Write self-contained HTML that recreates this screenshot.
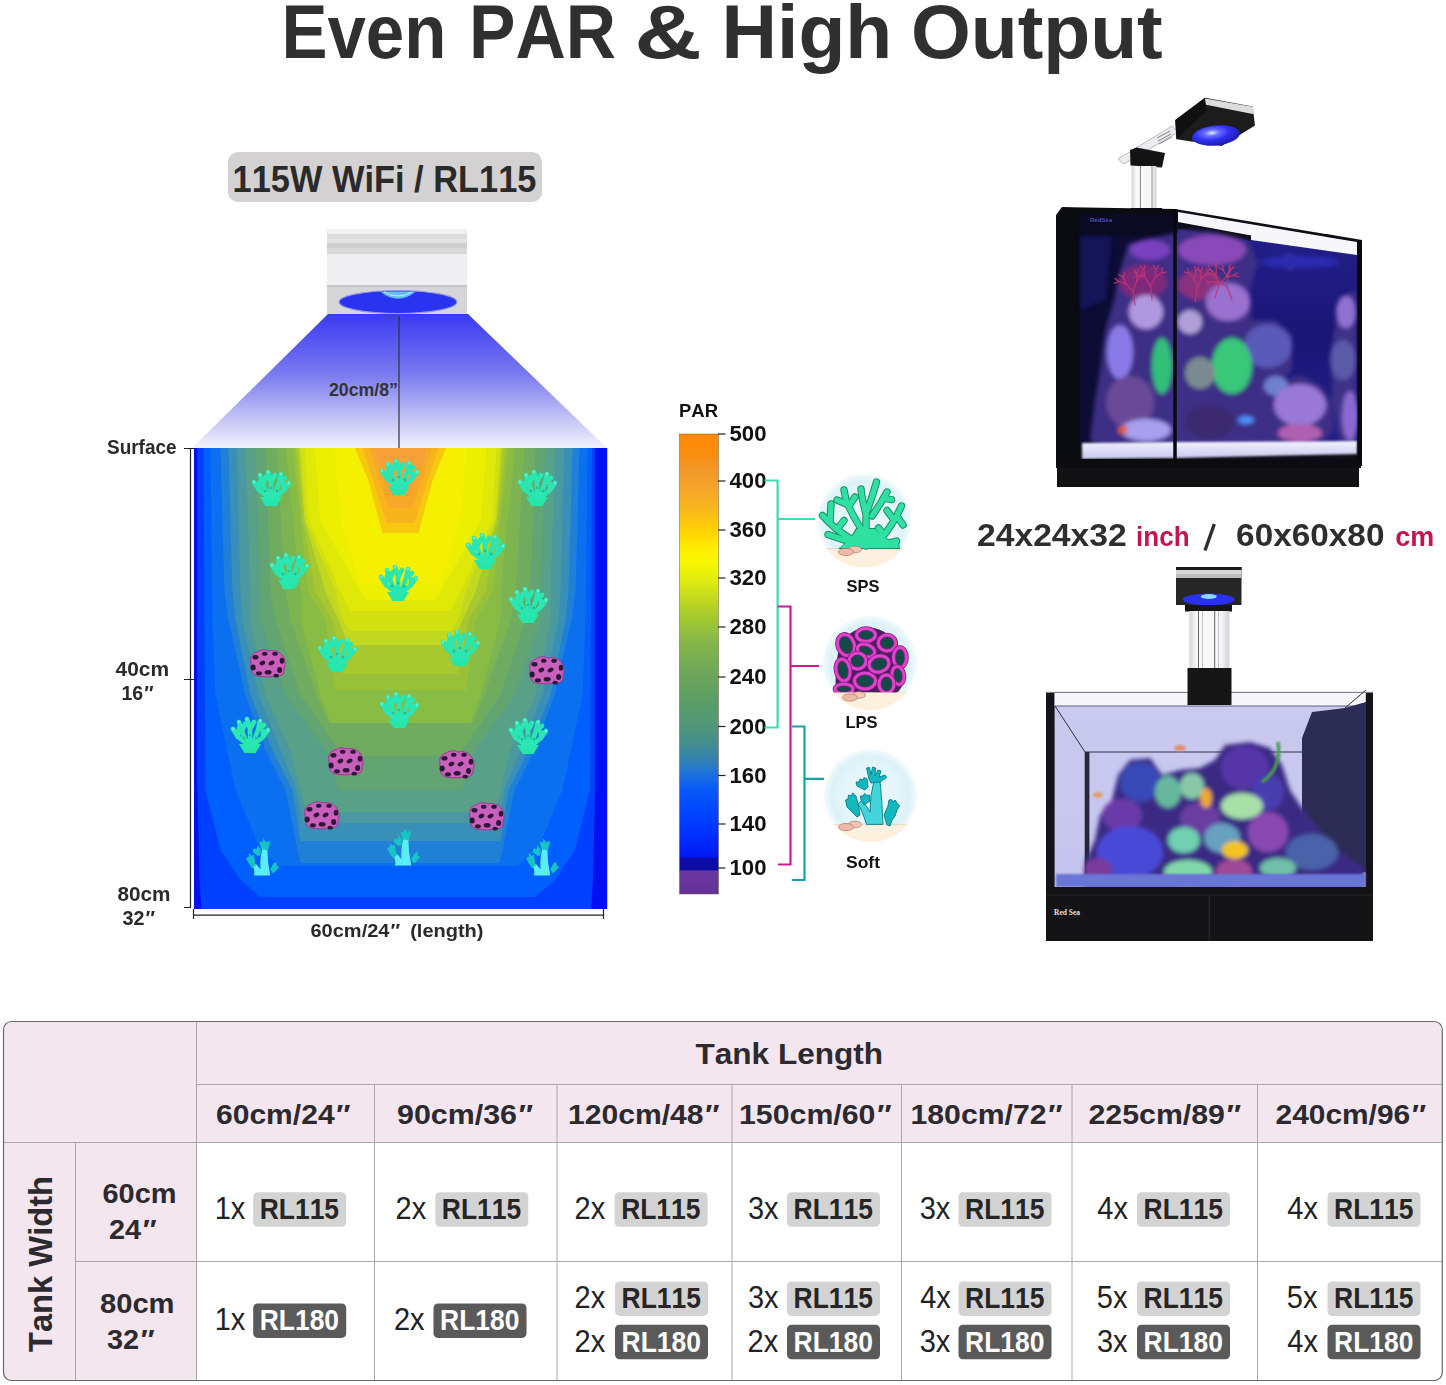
<!DOCTYPE html>
<html><head><meta charset="utf-8"><title>Even PAR &amp; High Output</title>
<style>
html,body{margin:0;padding:0;background:#fff;}
body{width:1446px;height:1385px;overflow:hidden;font-family:"Liberation Sans", sans-serif;}
svg{display:block;font-family:"Liberation Sans", sans-serif;font-kerning:none;}
</style></head><body>
<svg width="1446" height="1385" viewBox="0 0 1446 1385">
<text x="281.49" y="58" font-size="76.5" font-weight="bold" fill="#303030" text-anchor="start" textLength="164.79" lengthAdjust="spacingAndGlyphs" >Even</text>
<text x="468.94" y="58" font-size="76.5" font-weight="bold" fill="#303030" text-anchor="start" textLength="147.09" lengthAdjust="spacingAndGlyphs" >PAR</text>
<text x="634.41" y="58" font-size="76.5" font-weight="bold" fill="#303030" text-anchor="start" textLength="67.2" lengthAdjust="spacingAndGlyphs" >&amp;</text>
<text x="721.56" y="58" font-size="76.5" font-weight="bold" fill="#303030" text-anchor="start" textLength="170.7" lengthAdjust="spacingAndGlyphs" >High</text>
<text x="910.95" y="58" font-size="76.5" font-weight="bold" fill="#303030" text-anchor="start" textLength="251.79" lengthAdjust="spacingAndGlyphs" >Output</text>
<rect x="228" y="152" width="314" height="50" rx="10" fill="#d3d1d2"/>
<text x="232.5" y="191.5" font-size="36.5" font-weight="bold" fill="#2a2a2a" text-anchor="start" textLength="304" lengthAdjust="spacingAndGlyphs" >115W WiFi / RL115</text>
<g>
<rect x="327" y="229" width="140" height="86" rx="2" fill="#d8d8da"/>
<rect x="327" y="229" width="140" height="5" rx="2" fill="#f2f2f2"/>
<rect x="327" y="234" width="140" height="5" fill="#dcdcdc"/>
<rect x="327" y="239" width="140" height="4" fill="#e4e4e4"/>
<rect x="327" y="243" width="140" height="5" fill="#cfcfcf"/>
<rect x="327" y="248" width="140" height="6" fill="#d9d9d9"/>
<rect x="327" y="254" width="140" height="31" fill="#efeff1"/>
<rect x="327" y="285" width="140" height="2" fill="#c4c4c6"/>
<rect x="327" y="287" width="140" height="28" fill="#d6d6d8"/>
<ellipse cx="398" cy="302" rx="59" ry="11.5" fill="#2a34f0" stroke="#9a9ae0" stroke-width="1.2"/>
<path d="M380 291.5 Q398 306 416 291.5 Z" fill="#64bcf2"/>
<path d="M384 292 Q398 300 412 292" fill="none" stroke="#c8ecff" stroke-width="1"/>
</g>
<defs>
<linearGradient id="cone" x1="0" y1="0" x2="0" y2="1">
<stop offset="0" stop-color="#3a3af2"/>
<stop offset="0.45" stop-color="#7a7af0"/>
<stop offset="0.8" stop-color="#c8c8f6"/>
<stop offset="1" stop-color="#f2f2fc"/>
</linearGradient>
</defs>
<polygon points="328,314 468,314 607,448 192,448" fill="url(#cone)"/>
<line x1="399" y1="316" x2="399" y2="448" stroke="#333" stroke-width="1.2"/>

<text x="329" y="396" font-size="18" font-weight="bold" fill="#333" text-anchor="start" textLength="69" lengthAdjust="spacingAndGlyphs" >20cm/8&#8221;</text>
<defs><clipPath id="hm"><rect x="194" y="448" width="413.5" height="461"/></clipPath></defs>
<g clip-path="url(#hm)"><rect x="194" y="448" width="413.5" height="461" fill="#0010f0"/>
<polygon points="197.5,447.0 197.5,790.0 199.5,880.0 201.5,912.0 591.0,912.0 593.0,880.0 595.0,790.0 595.0,447.0" fill="#0040ff"/>
<polygon points="203.5,447.0 204.5,620.0 205.5,790.0 220.5,850.0 240.5,880.0 260.5,897.0 535.0,897.0 555.0,880.0 575.0,850.0 590.0,790.0 591.0,620.0 592.0,447.0" fill="#0060ff"/>
<polygon points="210.5,447.0 212.5,620.0 215.5,695.0 235.5,790.0 260.5,850.0 280.5,866.0 517.5,866.0 537.5,850.0 562.5,790.0 582.5,695.0 585.5,620.0 587.5,447.0" fill="#0a70f0"/>
<polygon points="220.5,447.0 224.5,592.0 228.5,620.0 245.5,695.0 265.5,750.0 285.5,790.0 297.5,850.0 300.5,863.0 499.5,863.0 502.5,850.0 514.5,790.0 534.5,750.0 554.5,695.0 571.5,620.0 575.5,592.0 579.5,447.0" fill="#2080d8"/>
<polygon points="228.5,447.0 232.5,592.0 235.5,620.0 250.5,695.0 272.5,750.0 292.5,790.0 300.5,841.0 500.5,841.0 508.5,790.0 528.5,750.0 550.5,695.0 565.5,620.0 568.5,592.0 572.5,447.0" fill="#3890b8"/>
<polygon points="236.5,447.0 240.5,592.0 242.5,620.0 258.5,695.0 280.5,750.0 296.5,790.0 302.5,823.0 498.5,823.0 504.5,790.0 520.5,750.0 542.5,695.0 558.5,620.0 560.5,592.0 564.5,447.0" fill="#4a98a0"/>
<polygon points="245.5,447.0 250.5,592.0 250.5,620.0 265.5,695.0 290.5,750.0 300.5,790.0 305.5,812.0 495.5,812.0 500.5,790.0 510.5,750.0 535.5,695.0 550.5,620.0 550.5,592.0 555.5,447.0" fill="#58a088"/>
<polygon points="255.5,447.0 260.5,592.0 260.5,620.0 285.5,695.0 326.5,750.0 338.5,790.0 462.5,790.0 474.5,750.0 515.5,695.0 540.5,620.0 540.5,592.0 545.5,447.0" fill="#62a472"/>
<polygon points="265.5,447.0 270.5,592.0 275.5,620.0 300.5,695.0 338.5,750.0 348.5,756.0 452.5,756.0 462.5,750.0 500.5,695.0 525.5,620.0 530.5,592.0 535.5,447.0" fill="#70ac60"/>
<polygon points="276.5,447.0 285.5,592.0 290.5,620.0 316.5,695.0 328.5,723.0 472.5,723.0 484.5,695.0 510.5,620.0 515.5,592.0 524.5,447.0" fill="#7cb452"/>
<polygon points="285.5,447.0 300.5,592.0 300.5,620.0 320.5,695.0 330.5,723.0 470.5,723.0 480.5,695.0 500.5,620.0 500.5,592.0 515.5,447.0" fill="#88bc44"/>
<polygon points="292.5,447.0 300.5,520.0 308.5,592.0 325.5,620.0 334.5,690.0 466.5,690.0 475.5,620.0 492.5,592.0 500.5,520.0 508.5,447.0" fill="#98c038"/>
<polygon points="295.5,447.0 302.5,520.0 315.5,592.0 332.5,620.0 342.5,674.0 458.5,674.0 468.5,620.0 485.5,592.0 498.5,520.0 505.5,447.0" fill="#a8c830"/>
<polygon points="298.5,447.0 304.5,520.0 325.5,592.0 338.5,620.0 348.5,645.0 452.5,645.0 462.5,620.0 475.5,592.0 496.5,520.0 502.5,447.0" fill="#c0d820"/>
<polygon points="300.5,447.0 305.5,520.0 335.5,592.0 342.5,620.0 350.5,631.0 450.5,631.0 458.5,620.0 465.5,592.0 495.5,520.0 500.5,447.0" fill="#d0e010"/>
<polygon points="304.5,447.0 308.5,520.0 340.5,592.0 350.5,611.0 450.5,611.0 460.5,592.0 492.5,520.0 496.5,447.0" fill="#e0e808"/>
<polygon points="314.5,447.0 320.5,520.0 360.5,592.0 366.5,600.0 434.5,600.0 440.5,592.0 480.5,520.0 486.5,447.0" fill="#ecf000"/>
<polygon points="334.5,447.0 340.5,520.0 360.5,585.0 440.5,585.0 460.5,520.0 466.5,447.0" fill="#f4f000"/>
<polygon points="354.5,447.0 368.5,481.0 382.5,533.0 418.5,533.0 432.5,481.0 446.5,447.0" fill="#f8c810"/>
<polygon points="362.5,447.0 386.5,523.0 414.5,523.0 438.5,447.0" fill="#f8b41c"/>
<polygon points="368.5,447.0 388.5,508.0 412.5,508.0 432.5,447.0" fill="#f8a828"/>
<polygon points="373.5,447.0 390.5,495.0 410.5,495.0 427.5,447.0" fill="#f8a038"/>
</g>
<defs>
<symbol id="sps" viewBox="0 0 40 40">
 <path d="M14.5 40 L25.5 40 L31 31 L9 31 Z" fill="#26e6aa"/>
 <g fill="none" stroke="#2ae6b2" stroke-linecap="round" stroke-linejoin="round" stroke-width="4.6">
  <path d="M20 33 L8 24 L3 16 M8 24 L9 15 M17 31 L12 18 L9 9 M12 18 L15 11 M20 31 L20 16 L17 6 M20 16 L24 9 M23 31 L28 17 L30 8 M28 17 L34 12 M22 33 L33 24 L38 17 M33 24 L33 18"/>
 </g>
 <g fill="#62eed4"><circle cx="3" cy="16" r="1.4"/><circle cx="9" cy="9" r="1.4"/><circle cx="17" cy="6" r="1.4"/><circle cx="30" cy="8" r="1.4"/><circle cx="38" cy="17" r="1.4"/></g>
 <g fill="#1f9f8c" opacity="0.55"><circle cx="14" cy="25" r="1.5"/><circle cx="26" cy="25" r="1.5"/><circle cx="20" cy="22" r="1.3"/></g>
</symbol>
<symbol id="lps" viewBox="0 0 40 30">
 <path d="M4 16 Q2 6 10 4 Q16 0 22 3 Q30 1 35 7 Q40 13 37 21 Q38 28 30 28 Q20 30 10 28 Q3 26 4 16 Z" fill="#c860bc" stroke="#9a3a90" stroke-width="1"/>
 <g fill="#2e1838" transform="translate(20 15) scale(1.15) translate(-20 -15)">
  <ellipse cx="10" cy="10" rx="2.6" ry="2"/><ellipse cx="18" cy="7" rx="2.4" ry="1.8"/><ellipse cx="27" cy="7" rx="2.4" ry="1.8"/><ellipse cx="33" cy="13" rx="2" ry="2.6"/>
  <ellipse cx="8" cy="19" rx="2.2" ry="2.6"/><ellipse cx="16" cy="15" rx="2.6" ry="1.8" transform="rotate(-25 16 15)"/><ellipse cx="24" cy="15" rx="2.8" ry="1.8" transform="rotate(-30 24 15)"/>
  <ellipse cx="31" cy="21" rx="2.2" ry="2.6"/><ellipse cx="13" cy="24" rx="2.6" ry="1.8"/><ellipse cx="21" cy="23" rx="3" ry="2"/><ellipse cx="28" cy="26" rx="2.4" ry="1.6"/>
 </g>
</symbol>
<symbol id="soft" viewBox="0 0 36 40">
 <path d="M10 40 Q12 34 8 30 L12 28 Q16 32 17 34 Q16 22 19 12 L24 12 Q24 26 27 40 Z" fill="#58eef4"/>
 <g fill="#16c4c4">
  <path d="M18 13 L16 5 L19 6 L20 2 L23 6 L27 4 L26 10 L24 14 Z"/>
  <path d="M14 20 L9 16 L10 12 L13 13 L14 9 L17 13 L17 19 Z"/>
  <path d="M8 32 L4 26 L2 22 L5 21 L5 17 L8 20 L10 18 L11 24 L12 30 Z"/>
  <path d="M27 34 L30 28 L33 26 L34 30 L36 31 L33 35 L30 38 Z"/>
 </g>
</symbol>
</defs>
<defs><filter id="soft05" x="-10%" y="-10%" width="120%" height="120%"><feGaussianBlur stdDeviation="0.55"/></filter></defs><g filter="url(#soft05)">
<use href="#sps" x="251" y="466" width="40" height="40"/>
<use href="#sps" x="379" y="455" width="40" height="40"/>
<use href="#sps" x="517" y="466" width="40" height="40"/>
<use href="#sps" x="269" y="549" width="40" height="40"/>
<use href="#sps" x="378" y="561" width="40" height="40"/>
<use href="#sps" x="465" y="529" width="40" height="40"/>
<use href="#sps" x="508" y="583" width="40" height="40"/>
<use href="#sps" x="317" y="632" width="40" height="40"/>
<use href="#sps" x="440" y="626" width="40" height="40"/>
<use href="#sps" x="379" y="688" width="40" height="40"/>
<use href="#sps" x="230" y="713" width="40" height="40"/>
<use href="#sps" x="508" y="714" width="40" height="40"/>
<use href="#lps" x="247" y="648" width="40" height="30"/>
<use href="#lps" x="526" y="655" width="40" height="30"/>
<use href="#lps" x="325" y="746" width="40" height="30"/>
<use href="#lps" x="436" y="749" width="40" height="30"/>
<use href="#lps" x="301" y="800" width="40" height="30"/>
<use href="#lps" x="466" y="801" width="40" height="30"/>
<use href="#soft" x="244" y="836" width="35" height="40"/>
<use href="#soft" x="385" y="826" width="35" height="40"/>
<use href="#soft" x="524" y="836" width="35" height="40"/>
</g>
<g stroke="#222" stroke-width="1.2" fill="none">
<path d="M190.5 449 L190.5 907.5"/>
<path d="M184 448.5 L194 448.5 M184 679.5 L194 679.5 M184 907.5 L191 907.5"/>
<path d="M193.5 915.2 L603.5 915.2 M193.5 909 L193.5 919 M603.5 909 L603.5 919"/>
</g>
<text x="107" y="454.2" font-size="20" font-weight="bold" fill="#2a2a2a" text-anchor="start" textLength="69.5" lengthAdjust="spacingAndGlyphs" >Surface</text>
<text x="115.5" y="676" font-size="20" font-weight="bold" fill="#2a2a2a" text-anchor="start" textLength="53.5" lengthAdjust="spacingAndGlyphs" >40cm</text>
<text x="121.5" y="700" font-size="20" font-weight="bold" fill="#2a2a2a" text-anchor="start" textLength="31" lengthAdjust="spacingAndGlyphs" >16<tspan font-style="italic">&#8243;</tspan></text>
<text x="117.5" y="901" font-size="20" font-weight="bold" fill="#2a2a2a" text-anchor="start" textLength="53" lengthAdjust="spacingAndGlyphs" >80cm</text>
<text x="122.5" y="925" font-size="20" font-weight="bold" fill="#2a2a2a" text-anchor="start" textLength="31.5" lengthAdjust="spacingAndGlyphs" >32<tspan font-style="italic">&#8243;</tspan></text>
<text x="310.5" y="937" font-size="18.5" font-weight="bold" fill="#2a2a2a" text-anchor="start" textLength="173" lengthAdjust="spacingAndGlyphs" >60cm/24<tspan font-style="italic">&#8243;</tspan>&#160;&#160;(length)</text>
<defs><linearGradient id="parbar" x1="0" y1="0" x2="0" y2="1"><stop offset="0.0000" stop-color="#ff8800"/><stop offset="0.0457" stop-color="#f88e10"/><stop offset="0.0783" stop-color="#f0982a"/><stop offset="0.1174" stop-color="#f5a428"/><stop offset="0.1543" stop-color="#f8b420"/><stop offset="0.1870" stop-color="#fcc410"/><stop offset="0.2196" stop-color="#ffd800"/><stop offset="0.2522" stop-color="#fff000"/><stop offset="0.2783" stop-color="#f8f800"/><stop offset="0.3174" stop-color="#e0ec10"/><stop offset="0.3609" stop-color="#c0d820"/><stop offset="0.4043" stop-color="#a0c830"/><stop offset="0.4478" stop-color="#88b848"/><stop offset="0.5130" stop-color="#70a858"/><stop offset="0.5783" stop-color="#5c9e66"/><stop offset="0.6326" stop-color="#509878"/><stop offset="0.6761" stop-color="#428c90"/><stop offset="0.7130" stop-color="#3080b8"/><stop offset="0.7413" stop-color="#1a70e0"/><stop offset="0.7739" stop-color="#0858f8"/><stop offset="0.8174" stop-color="#0048ff"/><stop offset="0.8717" stop-color="#0030ff"/><stop offset="0.9196" stop-color="#0018f0"/><stop offset="0.9217" stop-color="#0c0ca8"/><stop offset="0.9478" stop-color="#0c0ca0"/><stop offset="0.9500" stop-color="#6a38a0"/><stop offset="1.0000" stop-color="#643298"/></linearGradient></defs>
<rect x="679.5" y="434" width="39" height="460" fill="url(#parbar)" stroke="#6b5a3a" stroke-width="0.8" stroke-opacity="0.6"/>
<text x="679" y="417" font-size="18.5" font-weight="bold" fill="#111" text-anchor="start" textLength="39" lengthAdjust="spacingAndGlyphs" >PAR</text>
<line x1="718" y1="434" x2="725.5" y2="434" stroke="#222" stroke-width="1.2"/>
<text x="729.5" y="441.3" font-size="21.5" font-weight="bold" fill="#111" text-anchor="start" textLength="37" lengthAdjust="spacingAndGlyphs" >500</text>
<line x1="718" y1="481" x2="725.5" y2="481" stroke="#222" stroke-width="1.2"/>
<text x="729.5" y="488.3" font-size="21.5" font-weight="bold" fill="#111" text-anchor="start" textLength="37" lengthAdjust="spacingAndGlyphs" >400</text>
<line x1="718" y1="530" x2="725.5" y2="530" stroke="#222" stroke-width="1.2"/>
<text x="729.5" y="537.3" font-size="21.5" font-weight="bold" fill="#111" text-anchor="start" textLength="37" lengthAdjust="spacingAndGlyphs" >360</text>
<line x1="718" y1="578" x2="725.5" y2="578" stroke="#222" stroke-width="1.2"/>
<text x="729.5" y="585.3" font-size="21.5" font-weight="bold" fill="#111" text-anchor="start" textLength="37" lengthAdjust="spacingAndGlyphs" >320</text>
<line x1="718" y1="627" x2="725.5" y2="627" stroke="#222" stroke-width="1.2"/>
<text x="729.5" y="634.3" font-size="21.5" font-weight="bold" fill="#111" text-anchor="start" textLength="37" lengthAdjust="spacingAndGlyphs" >280</text>
<line x1="718" y1="677" x2="725.5" y2="677" stroke="#222" stroke-width="1.2"/>
<text x="729.5" y="684.3" font-size="21.5" font-weight="bold" fill="#111" text-anchor="start" textLength="37" lengthAdjust="spacingAndGlyphs" >240</text>
<line x1="718" y1="726.5" x2="725.5" y2="726.5" stroke="#222" stroke-width="1.2"/>
<text x="729.5" y="733.8" font-size="21.5" font-weight="bold" fill="#111" text-anchor="start" textLength="37" lengthAdjust="spacingAndGlyphs" >200</text>
<line x1="718" y1="775.5" x2="725.5" y2="775.5" stroke="#222" stroke-width="1.2"/>
<text x="729.5" y="782.8" font-size="21.5" font-weight="bold" fill="#111" text-anchor="start" textLength="37" lengthAdjust="spacingAndGlyphs" >160</text>
<line x1="718" y1="824" x2="725.5" y2="824" stroke="#222" stroke-width="1.2"/>
<text x="729.5" y="831.3" font-size="21.5" font-weight="bold" fill="#111" text-anchor="start" textLength="37" lengthAdjust="spacingAndGlyphs" >140</text>
<line x1="718" y1="868" x2="725.5" y2="868" stroke="#222" stroke-width="1.2"/>
<text x="729.5" y="875.3" font-size="21.5" font-weight="bold" fill="#111" text-anchor="start" textLength="37" lengthAdjust="spacingAndGlyphs" >100</text>
<g fill="none" stroke-width="2.2">
<path stroke="#3ddcb4" d="M764.5 480.5 L777.6 480.5 L777.6 727.5 L764.5 727.5 M777.6 519 L815 519"/>
<path stroke="#d0189c" d="M777.6 606.5 L790.5 606.5 L790.5 864.5 L778 864.5 M790.5 666 L819 666"/>
<path stroke="#1aa0a8" d="M792 726.5 L804.5 726.5 L804.5 880 L792 880 M804.5 778.8 L824 778.8"/>
</g>
<defs><clipPath id="c1"><circle cx="864.5" cy="520.5" r="47"/></clipPath>
<radialGradient id="c1g" cx="0.5" cy="0.5" r="0.5"><stop offset="0.55" stop-color="#e4f6fa"/><stop offset="0.85" stop-color="#dcf2f8"/><stop offset="1" stop-color="#f4fbfd"/></radialGradient>
<radialGradient id="c1s" cx="0.5" cy="0" r="1"><stop offset="0" stop-color="#fdf3e4"/><stop offset="0.6" stop-color="#fcecd6"/><stop offset="1" stop-color="#fdf6ec"/></radialGradient></defs>
<g clip-path="url(#c1)"><circle cx="864.5" cy="520.5" r="47" fill="url(#c1g)"/>
<rect x="817.5" y="548.7" width="94" height="47" fill="url(#c1s)"/>
<line x1="825.5" y1="548.7" x2="903.5" y2="548.7" stroke="#d8d4c8" stroke-width="0.8"/></g>
<defs><clipPath id="c2"><circle cx="870" cy="663" r="47"/></clipPath>
<radialGradient id="c2g" cx="0.5" cy="0.5" r="0.5"><stop offset="0.55" stop-color="#e4f6fa"/><stop offset="0.85" stop-color="#dcf2f8"/><stop offset="1" stop-color="#f4fbfd"/></radialGradient>
<radialGradient id="c2s" cx="0.5" cy="0" r="1"><stop offset="0" stop-color="#fdf3e4"/><stop offset="0.6" stop-color="#fcecd6"/><stop offset="1" stop-color="#fdf6ec"/></radialGradient></defs>
<g clip-path="url(#c2)"><circle cx="870" cy="663" r="47" fill="url(#c2g)"/>
<rect x="823" y="692.5" width="94" height="47" fill="url(#c2s)"/>
<line x1="831" y1="692.5" x2="909" y2="692.5" stroke="#d8d4c8" stroke-width="0.8"/></g>
<defs><clipPath id="c3"><circle cx="870.5" cy="795.5" r="46.5"/></clipPath>
<radialGradient id="c3g" cx="0.5" cy="0.5" r="0.5"><stop offset="0.55" stop-color="#e4f6fa"/><stop offset="0.85" stop-color="#dcf2f8"/><stop offset="1" stop-color="#f4fbfd"/></radialGradient>
<radialGradient id="c3s" cx="0.5" cy="0" r="1"><stop offset="0" stop-color="#fdf3e4"/><stop offset="0.6" stop-color="#fcecd6"/><stop offset="1" stop-color="#fdf6ec"/></radialGradient></defs>
<g clip-path="url(#c3)"><circle cx="870.5" cy="795.5" r="46.5" fill="url(#c3g)"/>
<rect x="824.0" y="824.4" width="93.0" height="46.5" fill="url(#c3s)"/>
<line x1="832.0" y1="824.4" x2="909.0" y2="824.4" stroke="#d8d4c8" stroke-width="0.8"/></g>
<path d="M838 549 Q850 540 856 528 L876 528 Q884 540 899 542 L900 549 Z" fill="#1b8f66"/>
<path d="M866 546 L866 512 M866 514 Q862 500 861 489 M866 514 Q872 498 876.5 482 M862 530 Q852 515 846 500 L844 490 M849 506 L855 497 M848 505 Q842 502 837 500 M853 540 Q835 530 822.5 515.5 M830 522 L831 504 M838 528 L844 520.5 M850 542 L828 534.5 M880 540 Q893 525 901.5 506 M894 520 L887 510.5 M897 516 L903 525 M872 516 Q880 505 887 492 M884 498 L891.5 499.6 M884 535 L878.5 528 M885 544 L896.5 541" fill="none" stroke="#1b8f66" stroke-width="7.4" stroke-linecap="round" stroke-linejoin="round"/>
<path d="M839.5 548 Q851 540 857 529 L875 529 Q884 540 898 543 L899 548 Z" fill="#30e0a2"/>
<path d="M866 546 L866 512 M866 514 Q862 500 861 489 M866 514 Q872 498 876.5 482 M862 530 Q852 515 846 500 L844 490 M849 506 L855 497 M848 505 Q842 502 837 500 M853 540 Q835 530 822.5 515.5 M830 522 L831 504 M838 528 L844 520.5 M850 542 L828 534.5 M880 540 Q893 525 901.5 506 M894 520 L887 510.5 M897 516 L903 525 M872 516 Q880 505 887 492 M884 498 L891.5 499.6 M884 535 L878.5 528 M885 544 L896.5 541" fill="none" stroke="#30e0a2" stroke-width="5.4" stroke-linecap="round" stroke-linejoin="round"/>
<ellipse cx="855" cy="549.5" rx="6.5" ry="3.3" fill="#f0c6b6" stroke="#b87c6c" stroke-width="0.7"/><ellipse cx="846" cy="552" rx="7.5" ry="3.6" fill="#eebaa8" stroke="#b07464" stroke-width="0.7"/>
<path d="M836 692 Q834 660 842 640 Q855 628 866 627 Q885 628 896 642 Q906 655 904 675 Q903 690 896 693 Z" fill="#4a2060"/>
<ellipse cx="846" cy="645" rx="8.3" ry="10.8" transform="rotate(-20 846 645)" fill="#134a48" stroke="#8a1c80" stroke-width="4.6"/>
<ellipse cx="846" cy="645" rx="8.3" ry="10.8" transform="rotate(-20 846 645)" fill="none" stroke="#dc44cc" stroke-width="3"/>
<ellipse cx="866" cy="635" rx="9.4" ry="6.5" transform="rotate(0 866 635)" fill="#134a48" stroke="#8a1c80" stroke-width="4.6"/>
<ellipse cx="866" cy="635" rx="9.4" ry="6.5" transform="rotate(0 866 635)" fill="none" stroke="#dc44cc" stroke-width="3"/>
<ellipse cx="887" cy="643" rx="8.7" ry="8" transform="rotate(0 887 643)" fill="#134a48" stroke="#8a1c80" stroke-width="4.6"/>
<ellipse cx="887" cy="643" rx="8.7" ry="8" transform="rotate(0 887 643)" fill="none" stroke="#dc44cc" stroke-width="3"/>
<ellipse cx="900" cy="657.5" rx="6.5" ry="10" transform="rotate(0 900 657.5)" fill="#134a48" stroke="#8a1c80" stroke-width="4.6"/>
<ellipse cx="900" cy="657.5" rx="6.5" ry="10" transform="rotate(0 900 657.5)" fill="none" stroke="#dc44cc" stroke-width="3"/>
<ellipse cx="866" cy="650.5" rx="9" ry="6" transform="rotate(20 866 650.5)" fill="#134a48" stroke="#8a1c80" stroke-width="4.6"/>
<ellipse cx="866" cy="650.5" rx="9" ry="6" transform="rotate(20 866 650.5)" fill="none" stroke="#dc44cc" stroke-width="3"/>
<ellipse cx="857.5" cy="661" rx="8.5" ry="8" transform="rotate(0 857.5 661)" fill="#134a48" stroke="#8a1c80" stroke-width="4.6"/>
<ellipse cx="857.5" cy="661" rx="8.5" ry="8" transform="rotate(0 857.5 661)" fill="none" stroke="#dc44cc" stroke-width="3"/>
<ellipse cx="879" cy="664" rx="10" ry="8" transform="rotate(-15 879 664)" fill="#134a48" stroke="#8a1c80" stroke-width="4.6"/>
<ellipse cx="879" cy="664" rx="10" ry="8" transform="rotate(-15 879 664)" fill="none" stroke="#dc44cc" stroke-width="3"/>
<ellipse cx="843" cy="670" rx="7" ry="11" transform="rotate(-10 843 670)" fill="#134a48" stroke="#8a1c80" stroke-width="4.6"/>
<ellipse cx="843" cy="670" rx="7" ry="11" transform="rotate(-10 843 670)" fill="none" stroke="#dc44cc" stroke-width="3"/>
<ellipse cx="898" cy="675.5" rx="6" ry="9" transform="rotate(-10 898 675.5)" fill="#134a48" stroke="#8a1c80" stroke-width="4.6"/>
<ellipse cx="898" cy="675.5" rx="6" ry="9" transform="rotate(-10 898 675.5)" fill="none" stroke="#dc44cc" stroke-width="3"/>
<ellipse cx="865" cy="681" rx="10.5" ry="8" transform="rotate(0 865 681)" fill="#134a48" stroke="#8a1c80" stroke-width="4.6"/>
<ellipse cx="865" cy="681" rx="10.5" ry="8" transform="rotate(0 865 681)" fill="none" stroke="#dc44cc" stroke-width="3"/>
<ellipse cx="886.5" cy="684" rx="7.5" ry="9" transform="rotate(0 886.5 684)" fill="#134a48" stroke="#8a1c80" stroke-width="4.6"/>
<ellipse cx="886.5" cy="684" rx="7.5" ry="9" transform="rotate(0 886.5 684)" fill="none" stroke="#dc44cc" stroke-width="3"/>
<ellipse cx="844" cy="689" rx="9" ry="5" transform="rotate(0 844 689)" fill="#134a48" stroke="#8a1c80" stroke-width="4.6"/>
<ellipse cx="844" cy="689" rx="9" ry="5" transform="rotate(0 844 689)" fill="none" stroke="#dc44cc" stroke-width="3"/>
<g clip-path="url(#c2)"><rect x="820" y="692.5" width="100" height="8" fill="#fdf1de"/></g>
<ellipse cx="859" cy="695.0" rx="6.5" ry="3.3" fill="#f0c6b6" stroke="#b87c6c" stroke-width="0.7"/><ellipse cx="850" cy="697.5" rx="7.5" ry="3.6" fill="#eebaa8" stroke="#b07464" stroke-width="0.7"/>
<g stroke="#0a7c84" stroke-width="0.9" stroke-linejoin="round">
<path d="M866.5 824.4 Q862 810 858 804 L862 800 Q868 808 870 812 Q870 795 874 781 L880 781 Q882 800 883 824.4 Z" fill="#44d4dc"/>
<path d="M869 779 L866.5 768 L869.5 767.5 L871 775 L872.5 767 L875.5 768 L875 776 L878 770 L881 771 L879 777 L885 775 L886.5 777.5 L880 782 L871 783 Z" fill="#12b8c0"/>
<path d="M865 790 L857 786 L856 782 L859 782 L860 779 L863 780 L864 777.5 L867 779 L868 787 Z" fill="#12b8c0"/>
<path d="M857 817 L852 812 L847 807 L845.5 800 L848 799 L848.5 795 L851.5 796 L852.5 793 L856 796 L857.5 802 L859 808 L860 815 Z" fill="#12b8c0"/>
<path d="M864 805 L861 800 L860.5 796 L863 796 L864.5 793.5 L867 795.5 L869.5 795 L870 801 Z" fill="#12b8c0"/>
<path d="M884 815 L888 806 L889 800 L891.5 799.5 L893 802 L895 800 L897 803 L899.5 806 L897 810 L895 816 L892 820 L890 826 L887 825 Z" fill="#12b8c0"/>
</g>
<ellipse cx="855" cy="824.5" rx="6.5" ry="3.3" fill="#f0c6b6" stroke="#b87c6c" stroke-width="0.7"/><ellipse cx="846" cy="827" rx="7.5" ry="3.6" fill="#eebaa8" stroke="#b07464" stroke-width="0.7"/>
<text x="863" y="592" font-size="16.5" font-weight="bold" fill="#111" text-anchor="middle" >SPS</text>
<text x="861.5" y="728" font-size="16.5" font-weight="bold" fill="#111" text-anchor="middle" >LPS</text>
<text x="846" y="867.5" font-size="16.5" font-weight="bold" fill="#111" text-anchor="start" textLength="34" lengthAdjust="spacingAndGlyphs" >Soft</text>
<text x="977.03" y="545.5" font-size="32" font-weight="bold" fill="#2e2e2e" text-anchor="start" textLength="149.71" lengthAdjust="spacingAndGlyphs" >24x24x32</text>
<text x="1136.09" y="545.5" font-size="27.5" font-weight="bold" fill="#c4164e" text-anchor="start" textLength="53.43" lengthAdjust="spacingAndGlyphs" >inch</text>
<line x1="1214.3" y1="524" x2="1205" y2="550.5" stroke="#2e2e2e" stroke-width="3.4"/>
<text x="1236.08" y="545.5" font-size="32" font-weight="bold" fill="#2e2e2e" text-anchor="start" textLength="148.39" lengthAdjust="spacingAndGlyphs" >60x60x80</text>
<text x="1395.25" y="545.5" font-size="27.5" font-weight="bold" fill="#c4164e" text-anchor="start" textLength="38.92" lengthAdjust="spacingAndGlyphs" >cm</text>
<defs>
<filter id="blur2" x="-20%" y="-20%" width="140%" height="140%"><feGaussianBlur stdDeviation="2.2"/></filter>
<filter id="blur1" x="-20%" y="-20%" width="140%" height="140%"><feGaussianBlur stdDeviation="1"/></filter>
<linearGradient id="sand1" x1="0" y1="0" x2="0" y2="1"><stop offset="0" stop-color="#f2f2ff"/><stop offset="1" stop-color="#c8c8ec"/></linearGradient>
<linearGradient id="tw1" x1="0" y1="0" x2="0" y2="1">
<stop offset="0" stop-color="#24208c"/><stop offset="0.5" stop-color="#1a1676"/><stop offset="1" stop-color="#221e88"/>
</linearGradient>
<linearGradient id="pole" x1="0" y1="0" x2="1" y2="0">
<stop offset="0" stop-color="#d8d8dc"/><stop offset="0.2" stop-color="#fafafa"/><stop offset="0.8" stop-color="#f6f6f8"/><stop offset="1" stop-color="#d0d0d4"/>
</linearGradient>
<radialGradient id="bluelamp" cx="0.42" cy="0.35" r="0.6"><stop offset="0" stop-color="#d8f0ff"/><stop offset="0.25" stop-color="#6a70ff"/><stop offset="0.6" stop-color="#3030f0"/><stop offset="1" stop-color="#2020b8"/></radialGradient>
</defs>
<!-- light arm -->
<polygon points="1118,159 1172,126 1178,132 1124,164" fill="#ececf0" stroke="#a0a0a8" stroke-width="0.7"/>
<path d="M1157 138 L1170 131 M1158 141 L1171 134 M1159 144 L1172 137" stroke="#666" stroke-width="0.8"/>
<polygon points="1130,150 1136.5,147.5 1165,153 1162,167.5 1130.5,165.5" fill="#141414"/>
<rect x="1131.5" y="166" width="25" height="43" fill="url(#pole)"/>
<line x1="1140.4" y1="166" x2="1140.4" y2="209" stroke="#777" stroke-width="0.9"/>
<line x1="1152" y1="166" x2="1152" y2="209" stroke="#888" stroke-width="0.9"/>
<rect x="1131" y="208" width="31" height="6" fill="#111"/>
<!-- head -->
<polygon points="1175.3,120 1205,97.7 1252.7,106.6 1255,125.4 1221.7,146 1176.4,139.2" fill="#1c1c1c"/>
<polygon points="1175.3,120 1205,97.7 1206.3,111 1176.4,139.2" fill="#101010"/>
<polygon points="1205,98.5 1253,106.8 1254,114.3 1206,104.8" fill="#dcdcdc"/>
<ellipse cx="1216" cy="135.5" rx="24" ry="10" fill="url(#bluelamp)" transform="rotate(-6 1216 135.5)"/>
<!-- tank body -->
<polygon points="1056,215 1062,207 1175,209 1175,460 1056,461" fill="#0b0b12"/>
<polygon points="1175,209 1362,240 1362,466 1175,462" fill="#0e0e16"/>
<!-- left water -->
<rect x="1080" y="214" width="94" height="230" fill="#0c0c34"/>
<rect x="1080" y="214" width="94" height="22" fill="#0a0a22"/>
<polygon points="1080,236 1112,236 1106,300 1080,310" fill="#161660" opacity="0.8" filter="url(#blur2)"/>
<text x="1090" y="221.5" font-size="6" font-weight="bold" fill="#4a56c0" font-family="Liberation Sans">RedSea</text>
<!-- right water -->
<polygon points="1178,225 1251,237 1357,255 1357,443 1178,443" fill="url(#tw1)"/>
<!-- white rim strip right -->
<polygon points="1178,212 1357,242 1357,255 1251,240 1251,236 1178,223" fill="#f6f6fb"/>
<polygon points="1178,222 1251,235.5 1251,241 1178,229" fill="#0c0c18"/>
<!-- corals (blurred) -->
<g filter="url(#blur2)">
<polygon points="1128,244 1150,238 1172,234 1180,230 1210,231 1248,240 1258,262 1250,290 1252,320 1275,320 1292,335 1292,370 1284,380 1300,375 1322,386 1332,402 1334,430 1322,445 1097,445 1090,440 1095,400 1100,370 1105,330 1114,300 1120,270" fill="#3c2e86"/>
<polygon points="1340,297 1356,290 1356,445 1340,445 1332,400 1331,350" fill="#3e3088"/>
<ellipse cx="1150" cy="250" rx="20" ry="10" fill="#7a40c0"/>
<ellipse cx="1143" cy="282" rx="24" ry="17" fill="#7e2c7a"/>
<ellipse cx="1146" cy="312" rx="17" ry="17" fill="#b098e0"/>
<ellipse cx="1120" cy="352" rx="13" ry="27" fill="#8a7ae8"/>
<ellipse cx="1162" cy="366" rx="10" ry="28" fill="#30c078"/>
<ellipse cx="1130" cy="402" rx="24" ry="26" fill="#6a4a96"/>
<ellipse cx="1146" cy="430" rx="25" ry="11" fill="#a8a0ee"/>
<ellipse cx="1212" cy="250" rx="34" ry="15" fill="#8a4ab8"/>
<ellipse cx="1200" cy="285" rx="22" ry="15" fill="#88307e"/>
<ellipse cx="1228" cy="302" rx="22" ry="19" fill="#9a70d0"/>
<ellipse cx="1190" cy="322" rx="12" ry="12" fill="#b0a0d8"/>
<ellipse cx="1268" cy="346" rx="24" ry="22" fill="#5a58b8"/>
<ellipse cx="1232" cy="366" rx="20" ry="28" fill="#38c878"/>
<ellipse cx="1200" cy="373" rx="15" ry="16" fill="#7a8a90"/>
<ellipse cx="1276" cy="386" rx="12" ry="10" fill="#7080d0"/>
<ellipse cx="1300" cy="405" rx="26" ry="21" fill="#9a78d8"/>
<ellipse cx="1300" cy="433" rx="22" ry="9" fill="#b060b0"/>
<ellipse cx="1210" cy="422" rx="24" ry="17" fill="#3a2a70"/>
<ellipse cx="1346" cy="312" rx="10" ry="16" fill="#9070d0"/>
<ellipse cx="1343" cy="360" rx="13" ry="20" fill="#5a5aa8"/>
<ellipse cx="1350" cy="416" rx="8" ry="25" fill="#8a6ad0"/>
<ellipse cx="1246" cy="420" rx="8" ry="4" fill="#5090ff"/>
<ellipse cx="1123" cy="430" rx="5" ry="4" fill="#e06030"/>
<ellipse cx="1290" cy="262" rx="8" ry="8" fill="#3a3aa8"/>
<ellipse cx="1300" cy="262" rx="40" ry="6" fill="#2a2ab0"/>
</g>
<g stroke="#c43472" stroke-width="1.3" fill="none" opacity="0.85" stroke-linecap="round"><path d="M1135.0 305.0 L1133.0 291.1 M1133.0 291.1 L1125.9 284.0 M1125.9 284.0 L1119.1 281.5 M1119.1 281.5 L1114.2 283.1 M1119.1 281.5 L1114.9 278.4 M1125.9 284.0 L1123.4 277.2 M1123.4 277.2 L1118.9 274.5 M1123.4 277.2 L1124.6 272.1 M1133.0 291.1 L1136.6 281.7 M1136.6 281.7 L1136.9 274.5 M1136.9 274.5 L1134.7 269.7 M1136.9 274.5 L1138.5 269.5 M1136.6 281.7 L1141.1 276.0 M1141.1 276.0 L1141.2 270.8 M1141.1 276.0 L1145.4 273.1 M1152.0 300.0 L1150.6 286.1 M1150.6 286.1 L1145.0 277.7 M1145.0 277.7 L1138.1 275.4 M1138.1 275.4 L1133.2 277.3 M1138.1 275.4 L1134.2 271.9 M1145.0 277.7 L1143.9 270.5 M1143.9 270.5 L1140.4 266.6 M1143.9 270.5 L1144.9 265.4 M1150.6 286.1 L1155.4 277.2 M1155.4 277.2 L1156.0 270.0 M1156.0 270.0 L1153.6 265.4 M1156.0 270.0 L1158.6 265.4 M1155.4 277.2 L1161.3 273.0 M1161.3 273.0 L1162.6 267.9 M1161.3 273.0 L1166.4 272.2 M1195.0 302.0 L1197.2 288.2 M1197.2 288.2 L1194.1 278.6 M1194.1 278.6 L1189.1 273.4 M1189.1 273.4 L1184.0 271.9 M1189.1 273.4 L1187.4 268.4 M1194.1 278.6 L1195.8 271.5 M1195.8 271.5 L1194.6 266.4 M1195.8 271.5 L1198.7 267.1 M1197.2 288.2 L1201.2 278.9 M1201.2 278.9 L1200.5 271.7 M1200.5 271.7 L1197.0 267.8 M1200.5 271.7 L1202.8 267.0 M1201.2 278.9 L1206.6 274.0 M1206.6 274.0 L1208.9 269.3 M1206.6 274.0 L1211.6 272.6 M1215.0 298.0 L1219.0 284.6 M1219.0 284.6 L1216.1 275.0 M1216.1 275.0 L1210.7 270.1 M1210.7 270.1 L1205.6 269.1 M1210.7 270.1 L1208.1 265.5 M1216.1 275.0 L1216.4 267.7 M1216.4 267.7 L1214.1 263.0 M1216.4 267.7 L1217.9 262.7 M1219.0 284.6 L1226.0 277.3 M1226.0 277.3 L1229.2 270.8 M1229.2 270.8 L1229.3 265.6 M1229.2 270.8 L1233.5 267.8 M1226.0 277.3 L1233.1 275.6 M1233.1 275.6 L1237.4 272.7 M1233.1 275.6 L1238.2 276.5 M1232.0 300.0 L1227.2 286.8 M1227.2 286.8 L1218.6 281.6 M1218.6 281.6 L1211.4 282.1 M1211.4 282.1 L1207.4 285.5 M1211.4 282.1 L1206.2 281.2 M1218.6 281.6 L1214.3 275.7 M1214.3 275.7 L1209.3 274.4 M1214.3 275.7 L1212.7 270.8 M1227.2 286.8 L1227.7 276.8 M1227.7 276.8 L1223.5 270.8 M1223.5 270.8 L1219.2 267.8 M1223.5 270.8 L1222.7 265.7 M1227.7 276.8 L1230.7 270.2 M1230.7 270.2 L1229.9 265.0 M1230.7 270.2 L1234.0 266.2"/></g>
<!-- sand -->
<g filter="url(#blur1)">
<polygon points="1082,443 1174,442 1357,441 1357,454 1174,458 1082,459" fill="url(#sand1)"/>
</g>
<line x1="1175" y1="209" x2="1175" y2="460" stroke="#08080e" stroke-width="3.5"/>
<line x1="1359.5" y1="241" x2="1359.5" y2="464" stroke="#08080e" stroke-width="4"/>
<!-- base -->
<rect x="1056" y="459" width="305" height="9" fill="#0c0c10"/>
<rect x="1057" y="468" width="302" height="19" fill="#121214"/>

<defs>
<linearGradient id="tw2" x1="0" y1="0" x2="0" y2="1">
<stop offset="0" stop-color="#cacaf0"/><stop offset="1" stop-color="#c4c4ee"/>
</linearGradient>
</defs>
<!-- head -->
<rect x="1176" y="567" width="65.5" height="38" fill="#262626"/>
<rect x="1176" y="567" width="65.5" height="3" fill="#1a1a1a"/>
<rect x="1176" y="570" width="65.5" height="4" fill="#d6d6d6"/>
<rect x="1176" y="574" width="65.5" height="4" fill="#bdbdbd"/>
<ellipse cx="1208.8" cy="599.5" rx="26" ry="6" fill="#2a30f0"/>
<ellipse cx="1208.8" cy="596.5" rx="8" ry="2.5" fill="#8ad8ff"/>
<rect x="1185" y="605" width="47" height="6.5" fill="#151515"/>
<rect x="1189.3" y="611" width="40" height="57.5" fill="url(#pole)"/>
<line x1="1198.5" y1="611" x2="1198.5" y2="668" stroke="#666" stroke-width="1"/>
<line x1="1202.5" y1="611" x2="1202.5" y2="668" stroke="#bbb" stroke-width="0.8"/>
<line x1="1214.7" y1="611" x2="1214.7" y2="668" stroke="#666" stroke-width="1"/>
<line x1="1218.5" y1="611" x2="1218.5" y2="668" stroke="#bbb" stroke-width="0.8"/>
<!-- tank -->
<rect x="1046" y="692" width="327" height="249" fill="#141418"/>
<rect x="1054.6" y="693" width="311" height="194" fill="url(#tw2)"/>
<rect x="1054.6" y="693" width="311" height="13" fill="#f6f6fb"/>
<line x1="1054.6" y1="706" x2="1366" y2="706" stroke="#60608a" stroke-width="1"/>
<line x1="1046" y1="692.3" x2="1373" y2="692.3" stroke="#9a9aa4" stroke-width="1"/>
<path d="M1055 706 L1085 752 L1303 752" stroke="#303048" stroke-width="1" fill="none"/>
<rect x="1084.7" y="752" width="4.7" height="125" fill="#26263c"/>
<polygon points="1302,738 1312,712 1345,708 1366,702 1366,872 1302,882" fill="#2c2c54"/>
<line x1="1345" y1="708" x2="1366" y2="690" stroke="#303048" stroke-width="1"/>
<rect x="1187.5" y="668" width="44" height="37" fill="#161616"/>
<!-- corals bottom -->
<g filter="url(#blur2)">
<polygon points="1083,887 1085,862 1095,840 1100,815 1112,800 1118,775 1130,760 1150,758 1162,775 1180,770 1200,768 1215,760 1225,745 1250,742 1270,748 1282,765 1290,790 1300,805 1320,830 1345,855 1364,868 1364,887" fill="#3a2c84"/>
<ellipse cx="1140" cy="782" rx="20" ry="20" fill="#3848b8"/>
<ellipse cx="1122" cy="815" rx="20" ry="16" fill="#6a3aa8"/>
<ellipse cx="1168" cy="792" rx="13" ry="16" fill="#68b8a0"/>
<ellipse cx="1192" cy="786" rx="12" ry="13" fill="#88c8a8"/>
<ellipse cx="1245" cy="768" rx="24" ry="22" fill="#5434a8"/>
<ellipse cx="1268" cy="792" rx="16" ry="18" fill="#4a3cb0"/>
<ellipse cx="1242" cy="806" rx="21" ry="13" fill="#a8e0a8"/>
<ellipse cx="1200" cy="818" rx="20" ry="16" fill="#6a3ca0"/>
<ellipse cx="1130" cy="852" rx="33" ry="26" fill="#4a4ad8"/>
<ellipse cx="1184" cy="840" rx="16" ry="13" fill="#70d0b0"/>
<ellipse cx="1222" cy="838" rx="18" ry="15" fill="#68a0c0"/>
<ellipse cx="1268" cy="832" rx="20" ry="20" fill="#8a4ab0"/>
<ellipse cx="1312" cy="852" rx="26" ry="18" fill="#4862a8"/>
<ellipse cx="1188" cy="872" rx="24" ry="12" fill="#80d8a8"/>
<ellipse cx="1234" cy="872" rx="18" ry="13" fill="#a04898"/>
<ellipse cx="1278" cy="868" rx="18" ry="10" fill="#70c0a8"/>
<ellipse cx="1098" cy="870" rx="14" ry="12" fill="#7a3a9a"/>
<ellipse cx="1235" cy="850" rx="13" ry="9" fill="#f4c41c"/>
<ellipse cx="1206" cy="798" rx="6" ry="10" fill="#f0a830"/>
</g>
<path d="M1278 742 Q1282 768 1262 782" stroke="#4a9a50" stroke-width="3.5" fill="none" filter="url(#blur1)"/>
<g filter="url(#blur1)"><rect x="1056" y="874" width="309" height="13" fill="#6a74d8"/></g>
<ellipse cx="1180" cy="748" rx="6" ry="3" fill="#e09070" filter="url(#blur1)"/>
<ellipse cx="1098" cy="795" rx="5" ry="3" fill="#e0a070" filter="url(#blur1)"/>
<!-- cabinet -->
<rect x="1046" y="887" width="327" height="54" fill="#141416"/>
<line x1="1046" y1="895" x2="1373" y2="895" stroke="#222226" stroke-width="1"/>
<line x1="1209.3" y1="895" x2="1209.3" y2="941" stroke="#2a2a2e" stroke-width="1.2"/>
<text x="1054" y="915" font-size="7.5" font-weight="bold" fill="#e0e0e0" font-family="Liberation Serif">Red Sea</text>

<defs><clipPath id="tbl"><rect x="3.5" y="1021.5" width="1438.8" height="359.0" rx="8"/></clipPath></defs>
<g clip-path="url(#tbl)"><rect x="3.5" y="1021.5" width="1438.8" height="359.0" fill="#f3e6ee"/>
<rect x="196.5" y="1142.5" width="1245.8" height="238.0" fill="#ffffff"/></g>
<g stroke="#a8a8a8" stroke-width="1" fill="none"><path d="M196.5 1084.5 L1442.3 1084.5 M3.5 1142.5 L1442.3 1142.5 M75.5 1261.5 L1442.3 1261.5"/><path d="M196.5 1021.5 L196.5 1380.5 M75.5 1142.5 L75.5 1380.5"/><path d="M374.5 1084.5 L374.5 1380.5"/><path d="M557 1084.5 L557 1380.5"/><path d="M732 1084.5 L732 1380.5"/><path d="M901.5 1084.5 L901.5 1380.5"/><path d="M1072 1084.5 L1072 1380.5"/><path d="M1257.5 1084.5 L1257.5 1380.5"/></g>
<rect x="3.5" y="1021.5" width="1438.8" height="359.0" rx="8" fill="none" stroke="#6a6a6a" stroke-width="1.2"/>
<text x="695.5" y="1063.8" font-size="30" font-weight="bold" fill="#2c2a2e" text-anchor="start" textLength="187.5" lengthAdjust="spacingAndGlyphs" >Tank Length</text>
<text x="216" y="1124" font-size="28" font-weight="bold" fill="#2c2a2e" text-anchor="start" textLength="133" lengthAdjust="spacingAndGlyphs" >60cm/24<tspan font-style="italic">&#8243;</tspan></text>
<text x="397" y="1124" font-size="28" font-weight="bold" fill="#2c2a2e" text-anchor="start" textLength="134.5" lengthAdjust="spacingAndGlyphs" >90cm/36<tspan font-style="italic">&#8243;</tspan></text>
<text x="568" y="1124" font-size="28" font-weight="bold" fill="#2c2a2e" text-anchor="start" textLength="150" lengthAdjust="spacingAndGlyphs" >120cm/48<tspan font-style="italic">&#8243;</tspan></text>
<text x="739" y="1124" font-size="28" font-weight="bold" fill="#2c2a2e" text-anchor="start" textLength="151" lengthAdjust="spacingAndGlyphs" >150cm/60<tspan font-style="italic">&#8243;</tspan></text>
<text x="910.5" y="1124" font-size="28" font-weight="bold" fill="#2c2a2e" text-anchor="start" textLength="150.5" lengthAdjust="spacingAndGlyphs" >180cm/72<tspan font-style="italic">&#8243;</tspan></text>
<text x="1088.5" y="1124" font-size="28" font-weight="bold" fill="#2c2a2e" text-anchor="start" textLength="151" lengthAdjust="spacingAndGlyphs" >225cm/89<tspan font-style="italic">&#8243;</tspan></text>
<text x="1275.5" y="1124" font-size="28" font-weight="bold" fill="#2c2a2e" text-anchor="start" textLength="149" lengthAdjust="spacingAndGlyphs" >240cm/96<tspan font-style="italic">&#8243;</tspan></text>
<text transform="translate(51.5,1352) rotate(-90)" x="0" y="0" font-size="32.5" font-weight="bold" fill="#2c2a2e" textLength="176" lengthAdjust="spacingAndGlyphs">Tank Width</text>
<text x="102.5" y="1203.3" font-size="27.5" font-weight="bold" fill="#2c2a2e" text-anchor="start" textLength="74" lengthAdjust="spacingAndGlyphs" >60cm</text>
<text x="109" y="1239.3" font-size="27.5" font-weight="bold" fill="#2c2a2e" text-anchor="start" textLength="46" lengthAdjust="spacingAndGlyphs" >24<tspan font-style="italic">&#8243;</tspan></text>
<text x="100" y="1313" font-size="27.5" font-weight="bold" fill="#2c2a2e" text-anchor="start" textLength="74.5" lengthAdjust="spacingAndGlyphs" >80cm</text>
<text x="107" y="1348.5" font-size="27.5" font-weight="bold" fill="#2c2a2e" text-anchor="start" textLength="46" lengthAdjust="spacingAndGlyphs" >32<tspan font-style="italic">&#8243;</tspan></text>
<text x="214.7" y="1219.2" font-size="30.5" font-weight="normal" fill="#222" text-anchor="start" textLength="30.6" lengthAdjust="spacingAndGlyphs" >1x</text>
<rect x="253.2" y="1192.2" width="93" height="34.5" rx="4.5" fill="#d3d3d3"/><text x="299.4" y="1219.0" font-size="29" font-weight="bold" fill="#262626" text-anchor="middle" textLength="79.3" lengthAdjust="spacingAndGlyphs" >RL115</text>
<text x="395.55" y="1219.2" font-size="30.5" font-weight="normal" fill="#222" text-anchor="start" textLength="30.6" lengthAdjust="spacingAndGlyphs" >2x</text>
<rect x="435.3" y="1192.2" width="93" height="34.5" rx="4.5" fill="#d3d3d3"/><text x="481.5" y="1219.0" font-size="29" font-weight="bold" fill="#262626" text-anchor="middle" textLength="79.3" lengthAdjust="spacingAndGlyphs" >RL115</text>
<text x="574.55" y="1219.2" font-size="30.5" font-weight="normal" fill="#222" text-anchor="start" textLength="30.6" lengthAdjust="spacingAndGlyphs" >2x</text>
<rect x="614.6" y="1192.2" width="93" height="34.5" rx="4.5" fill="#d3d3d3"/><text x="660.8000000000001" y="1219.0" font-size="29" font-weight="bold" fill="#262626" text-anchor="middle" textLength="79.3" lengthAdjust="spacingAndGlyphs" >RL115</text>
<text x="747.9" y="1219.2" font-size="30.5" font-weight="normal" fill="#222" text-anchor="start" textLength="30.6" lengthAdjust="spacingAndGlyphs" >3x</text>
<rect x="787" y="1192.2" width="93" height="34.5" rx="4.5" fill="#d3d3d3"/><text x="833.2" y="1219.0" font-size="29" font-weight="bold" fill="#262626" text-anchor="middle" textLength="79.3" lengthAdjust="spacingAndGlyphs" >RL115</text>
<text x="919.7" y="1219.2" font-size="30.5" font-weight="normal" fill="#222" text-anchor="start" textLength="30.6" lengthAdjust="spacingAndGlyphs" >3x</text>
<rect x="958.5" y="1192.2" width="93" height="34.5" rx="4.5" fill="#d3d3d3"/><text x="1004.7" y="1219.0" font-size="29" font-weight="bold" fill="#262626" text-anchor="middle" textLength="79.3" lengthAdjust="spacingAndGlyphs" >RL115</text>
<text x="1097.33" y="1219.2" font-size="30.5" font-weight="normal" fill="#222" text-anchor="start" textLength="30.6" lengthAdjust="spacingAndGlyphs" >4x</text>
<rect x="1137" y="1192.2" width="93" height="34.5" rx="4.5" fill="#d3d3d3"/><text x="1183.2" y="1219.0" font-size="29" font-weight="bold" fill="#262626" text-anchor="middle" textLength="79.3" lengthAdjust="spacingAndGlyphs" >RL115</text>
<text x="1287.33" y="1219.2" font-size="30.5" font-weight="normal" fill="#222" text-anchor="start" textLength="30.6" lengthAdjust="spacingAndGlyphs" >4x</text>
<rect x="1327.5" y="1192.2" width="93" height="34.5" rx="4.5" fill="#d3d3d3"/><text x="1373.7" y="1219.0" font-size="29" font-weight="bold" fill="#262626" text-anchor="middle" textLength="79.3" lengthAdjust="spacingAndGlyphs" >RL115</text>
<text x="214.7" y="1330.4" font-size="30.5" font-weight="normal" fill="#222" text-anchor="start" textLength="30.6" lengthAdjust="spacingAndGlyphs" >1x</text>
<rect x="253.2" y="1303.4" width="93" height="34.5" rx="4.5" fill="#5a5a5a"/><text x="299.4" y="1330.2" font-size="29" font-weight="bold" fill="#ffffff" text-anchor="middle" textLength="79.3" lengthAdjust="spacingAndGlyphs" >RL180</text>
<text x="393.95" y="1330.4" font-size="30.5" font-weight="normal" fill="#222" text-anchor="start" textLength="30.6" lengthAdjust="spacingAndGlyphs" >2x</text>
<rect x="433.5" y="1303.4" width="93" height="34.5" rx="4.5" fill="#5a5a5a"/><text x="479.7" y="1330.2" font-size="29" font-weight="bold" fill="#ffffff" text-anchor="middle" textLength="79.3" lengthAdjust="spacingAndGlyphs" >RL180</text>
<text x="574.55" y="1308.4" font-size="30.5" font-weight="normal" fill="#222" text-anchor="start" textLength="30.6" lengthAdjust="spacingAndGlyphs" >2x</text>
<rect x="615" y="1281.4" width="93" height="34.5" rx="4.5" fill="#d3d3d3"/><text x="661.2" y="1308.2" font-size="29" font-weight="bold" fill="#262626" text-anchor="middle" textLength="79.3" lengthAdjust="spacingAndGlyphs" >RL115</text>
<text x="574.55" y="1351.8" font-size="30.5" font-weight="normal" fill="#222" text-anchor="start" textLength="30.6" lengthAdjust="spacingAndGlyphs" >2x</text>
<rect x="615" y="1324.8" width="93" height="34.5" rx="4.5" fill="#5a5a5a"/><text x="661.2" y="1351.6" font-size="29" font-weight="bold" fill="#ffffff" text-anchor="middle" textLength="79.3" lengthAdjust="spacingAndGlyphs" >RL180</text>
<text x="747.9" y="1308.4" font-size="30.5" font-weight="normal" fill="#222" text-anchor="start" textLength="30.6" lengthAdjust="spacingAndGlyphs" >3x</text>
<rect x="787" y="1281.4" width="93" height="34.5" rx="4.5" fill="#d3d3d3"/><text x="833.2" y="1308.2" font-size="29" font-weight="bold" fill="#262626" text-anchor="middle" textLength="79.3" lengthAdjust="spacingAndGlyphs" >RL115</text>
<text x="747.55" y="1351.8" font-size="30.5" font-weight="normal" fill="#222" text-anchor="start" textLength="30.6" lengthAdjust="spacingAndGlyphs" >2x</text>
<rect x="787" y="1324.8" width="93" height="34.5" rx="4.5" fill="#5a5a5a"/><text x="833.2" y="1351.6" font-size="29" font-weight="bold" fill="#ffffff" text-anchor="middle" textLength="79.3" lengthAdjust="spacingAndGlyphs" >RL180</text>
<text x="920.13" y="1308.4" font-size="30.5" font-weight="normal" fill="#222" text-anchor="start" textLength="30.6" lengthAdjust="spacingAndGlyphs" >4x</text>
<rect x="958.5" y="1281.4" width="93" height="34.5" rx="4.5" fill="#d3d3d3"/><text x="1004.7" y="1308.2" font-size="29" font-weight="bold" fill="#262626" text-anchor="middle" textLength="79.3" lengthAdjust="spacingAndGlyphs" >RL115</text>
<text x="919.7" y="1351.8" font-size="30.5" font-weight="normal" fill="#222" text-anchor="start" textLength="30.6" lengthAdjust="spacingAndGlyphs" >3x</text>
<rect x="958.5" y="1324.8" width="93" height="34.5" rx="4.5" fill="#5a5a5a"/><text x="1004.7" y="1351.6" font-size="29" font-weight="bold" fill="#ffffff" text-anchor="middle" textLength="79.3" lengthAdjust="spacingAndGlyphs" >RL180</text>
<text x="1096.84" y="1308.4" font-size="30.5" font-weight="normal" fill="#222" text-anchor="start" textLength="30.6" lengthAdjust="spacingAndGlyphs" >5x</text>
<rect x="1137" y="1281.4" width="93" height="34.5" rx="4.5" fill="#d3d3d3"/><text x="1183.2" y="1308.2" font-size="29" font-weight="bold" fill="#262626" text-anchor="middle" textLength="79.3" lengthAdjust="spacingAndGlyphs" >RL115</text>
<text x="1096.9" y="1351.8" font-size="30.5" font-weight="normal" fill="#222" text-anchor="start" textLength="30.6" lengthAdjust="spacingAndGlyphs" >3x</text>
<rect x="1137" y="1324.8" width="93" height="34.5" rx="4.5" fill="#5a5a5a"/><text x="1183.2" y="1351.6" font-size="29" font-weight="bold" fill="#ffffff" text-anchor="middle" textLength="79.3" lengthAdjust="spacingAndGlyphs" >RL180</text>
<text x="1286.84" y="1308.4" font-size="30.5" font-weight="normal" fill="#222" text-anchor="start" textLength="30.6" lengthAdjust="spacingAndGlyphs" >5x</text>
<rect x="1327.5" y="1281.4" width="93" height="34.5" rx="4.5" fill="#d3d3d3"/><text x="1373.7" y="1308.2" font-size="29" font-weight="bold" fill="#262626" text-anchor="middle" textLength="79.3" lengthAdjust="spacingAndGlyphs" >RL115</text>
<text x="1287.33" y="1351.8" font-size="30.5" font-weight="normal" fill="#222" text-anchor="start" textLength="30.6" lengthAdjust="spacingAndGlyphs" >4x</text>
<rect x="1327.5" y="1324.8" width="93" height="34.5" rx="4.5" fill="#5a5a5a"/><text x="1373.7" y="1351.6" font-size="29" font-weight="bold" fill="#ffffff" text-anchor="middle" textLength="79.3" lengthAdjust="spacingAndGlyphs" >RL180</text>
</svg>
</body></html>
